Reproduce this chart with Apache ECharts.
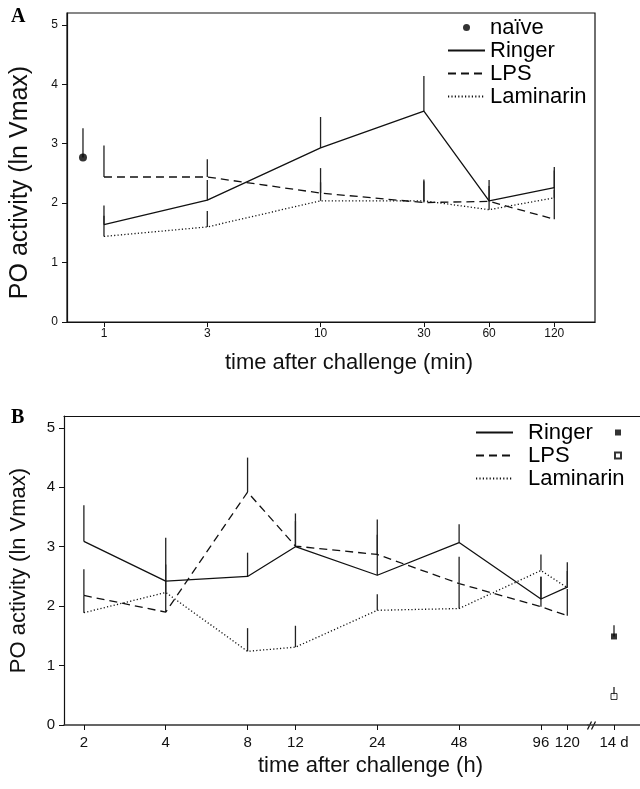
<!DOCTYPE html>
<html>
<head>
<meta charset="utf-8">
<script src="https://cdn.jsdelivr.net/npm/echarts@6/dist/echarts.min.js"></script>
<style>
html, body { margin: 0; padding: 0; background: #fff; }
#chart { width: 640px; height: 789px; }
</style>
</head>
<body>
<div id="chart"></div>
<script>
// panel A: minutes after challenge
var timesA = [1, 3, 10, 30, 60, 120];
var ringerA = [1.64, 2.05, 2.93, 3.55, 2.04, 2.26];
var ringerATop = [1.96, 2.39, 3.45, 4.14, 2.39, 2.61];
var lpsA = [2.44, 2.44, 2.17, 2.01, 2.03, 1.73];
var lpsATop = [2.97, 2.74, 2.59, 2.40, 2.29, 2.22];
var lamA = [1.44, 1.60, 2.04, 2.04, 1.89, 2.09];
var lamATop = [1.79, 1.87, 2.35, 2.37, 2.05, 2.55];
var naiveTime = [0.8];
var naiveValue = [2.77];
var naiveTop = [3.26];

// panel B: hours after challenge, plus 14 days
var timesB = [2, 4, 8, 12, 24, 48, 96, 120];
var ringerB = [3.09, 2.42, 2.50, 3.00, 2.52, 3.07, 2.12, 2.32];
var ringerBTop = [3.70, 3.15, 2.90, 3.56, 3.46, 3.38, 2.49, 2.74];
var lpsB = [2.18, 1.90, 3.92, 3.01, 2.87, 2.38, 1.99, 1.84];
var lpsBTop = [2.62, 2.42, 4.50, 3.43, 3.20, 2.83, 2.50, 2.29];
var lamB = [1.89, 2.23, 1.24, 1.31, 1.93, 1.96, 2.60, 2.31];
var lamBTop = [2.18, 2.70, 1.63, 1.67, 2.20, 2.37, 2.87, 2.59];
var dayLabels = ['14 d'];
var ringerDay = [1.49];
var ringerDayTop = [1.68];
var lpsDay = [0.48];
var lpsDayTop = [0.64];

var ticksA = [1, 3, 10, 30, 60, 120];
var ticksB = [2, 4, 8, 12, 24, 48, 96, 120];
var yTicks = [0, 1, 2, 3, 4, 5];

var font = 'Liberation Sans, Arial, sans-serif';
var ink = '#111';

function pairs(xs, ys) {
    return xs.map(function(x, i) { return [x, ys[i]]; });
}

function triples(xs, ys, tops) {
    return xs.map(function(x, i) { return [x, ys[i], tops[i]]; });
}

// legend entry for a line series: bare line, symbol hidden
function lineEntry(name) {
    return { name: name, itemStyle: { opacity: 0 } };
}

// upper error bar only, a vertical line from the mean to mean + error
function renderErrorBar(params, api) {
    var p0 = api.coord([api.value(0), api.value(1)]);
    var p1 = api.coord([api.value(0), api.value(2)]);
    return {
        type: 'line',
        shape: { x1: p0[0], y1: p0[1], x2: p1[0], y2: p1[1] },
        style: { stroke: '#222', lineWidth: 1.3 }
    };
}

function lineSeries(name, xi, data, dash) {
    return {
        name: name,
        type: 'line',
        xAxisIndex: xi,
        yAxisIndex: xi === 0 ? 0 : 1,
        data: data,
        symbol: 'none',
        lineStyle: { color: ink, width: 1.3, type: dash },
        itemStyle: { color: ink },
        z: 3
    };
}

function errorSeries(xi, yi, data) {
    return {
        type: 'custom',
        xAxisIndex: xi,
        yAxisIndex: yi,
        data: data,
        renderItem: renderErrorBar,
        encode: { x: 0, y: [1, 2] },
        z: 2
    };
}

function yAxisFor(gridIndex, size, name, nameSize, pad) {
    return {
        gridIndex: gridIndex,
        type: 'value',
        min: 0,
        max: 5.2,
        axisLine: { show: true, lineStyle: { color: ink, width: 1.2 } },
        axisTick: { show: true, length: 5, customValues: yTicks, lineStyle: { color: ink } },
        axisLabel: { customValues: yTicks, fontSize: size, color: ink, fontFamily: font, margin: 9 },
        splitLine: { show: false },
        name: name,
        nameLocation: 'middle',
        nameGap: 34,
        nameTextStyle: { fontSize: nameSize, color: ink, fontFamily: font, padding: pad }
    };
}

var dash = [8, 5];
var dot = [1.2, 2.2];

var chart = echarts.init(document.getElementById('chart'));
chart.setOption({
    animation: false,
    backgroundColor: '#fff',
    title: [
        { text: 'A', left: 11, top: 7, padding: 0,
          textStyle: { fontFamily: 'Liberation Serif, Times New Roman, serif', fontWeight: 'bold', fontSize: 20, color: '#000' } },
        { text: 'B', left: 11, top: 408, padding: 0,
          textStyle: { fontFamily: 'Liberation Serif, Times New Roman, serif', fontWeight: 'bold', fontSize: 20, color: '#000' } }
    ],
    legend: [
        {
            data: ['naïve', lineEntry('Ringer'), lineEntry('LPS'), lineEntry('Laminarin')],
            orient: 'vertical',
            left: 447,
            top: 16,
            padding: 0,
            itemWidth: 37,
            itemHeight: 7,
            itemGap: 0,
            selectedMode: false,
            textStyle: { fontSize: 22, lineHeight: 23, color: '#000', fontFamily: font }
        },
        {
            data: [lineEntry('Ringer'), lineEntry('LPS'), lineEntry('Laminarin')],
            orient: 'vertical',
            left: 475,
            top: 421,
            padding: 0,
            itemWidth: 37,
            itemHeight: 7,
            itemGap: 0,
            selectedMode: false,
            textStyle: { fontSize: 22, lineHeight: 23, color: '#000', fontFamily: font, padding: [0, 0, 0, 10] }
        },
        {
            data: ['Ringer 14 d', 'LPS 14 d'],
            orient: 'vertical',
            left: 614,
            top: 421,
            padding: 0,
            itemWidth: 6,
            itemHeight: 6,
            itemGap: 0,
            selectedMode: false,
            formatter: function() { return ' '; },
            textStyle: { fontSize: 22, lineHeight: 23, color: '#000', fontFamily: font }
        }
    ],
    grid: [
        { left: 66, top: 13, width: 529, height: 309, show: true, borderColor: ink, borderWidth: 1.2 },
        { left: 63, top: 416, width: 525, height: 309 },
        { left: 588, top: 416, width: 52, height: 309 }
    ],
    xAxis: [
        {
            gridIndex: 0,
            type: 'log',
            logBase: 10,
            min: 0.675,
            max: 185,
            axisLine: { show: true, lineStyle: { color: ink, width: 1.2 } },
            axisTick: { show: true, length: 5, customValues: ticksA, lineStyle: { color: ink } },
            axisLabel: { customValues: ticksA, fontSize: 12, color: ink, fontFamily: font, margin: 6 },
            splitLine: { show: false },
            minorTick: { show: false },
            name: 'time after challenge (min)',
            nameLocation: 'middle',
            nameGap: 30,
            nameTextStyle: { fontSize: 22, color: ink, fontFamily: font, padding: [0, 0, 0, 36] }
        },
        {
            gridIndex: 1,
            type: 'log',
            logBase: 2,
            min: 1.69,
            max: 143,
            axisLine: { show: true, lineStyle: { color: '#333', width: 1.5 } },
            axisTick: { show: true, length: 5, customValues: ticksB, lineStyle: { color: ink } },
            axisLabel: { customValues: ticksB, fontSize: 15, color: ink, fontFamily: font, margin: 10 },
            splitLine: { show: false },
            minorTick: { show: false },
            name: 'time after challenge (h)',
            nameLocation: 'middle',
            nameGap: 30,
            nameTextStyle: { fontSize: 22, color: ink, fontFamily: font, padding: [0, 0, 0, 89] }
        },
        {
            gridIndex: 2,
            type: 'category',
            data: dayLabels,
            axisLine: { show: true, lineStyle: { color: '#333', width: 1.5 } },
            axisTick: { show: true, length: 5, alignWithLabel: true, lineStyle: { color: ink } },
            axisLabel: { fontSize: 15, color: ink, fontFamily: font, margin: 10 }
        },
        {
            gridIndex: 1, type: 'value', position: 'top', min: 0, max: 1,
            axisLine: { show: true, onZero: false, lineStyle: { color: ink, width: 1.2 } },
            axisTick: { show: false }, axisLabel: { show: false }, splitLine: { show: false }
        },
        {
            gridIndex: 2, type: 'value', position: 'top', min: 0, max: 1,
            axisLine: { show: true, onZero: false, lineStyle: { color: ink, width: 1.2 } },
            axisTick: { show: false }, axisLabel: { show: false }, splitLine: { show: false }
        }
    ],
    yAxis: [
        yAxisFor(0, 12, 'PO activity (ln Vmax)', 25, [0, 30, 0, 0]),
        yAxisFor(1, 15, 'PO activity (ln Vmax)', 22, [0, 0, 0, 0]),
        { gridIndex: 2, type: 'value', min: 0, max: 5.2, show: false }
    ],
    graphic: [
        {
            type: 'group',
            left: 585,
            top: 719,
            children: [
                { type: 'rect', shape: { x: 1, y: 3, width: 8, height: 6 }, style: { fill: '#fff' } },
                { type: 'line', shape: { x1: 0, y1: 10, x2: 4, y2: 2 }, style: { stroke: ink, lineWidth: 1.2 } },
                { type: 'line', shape: { x1: 4, y1: 10, x2: 8, y2: 2 }, style: { stroke: ink, lineWidth: 1.2 } }
            ]
        }
    ],
    series: [
        lineSeries('Ringer', 0, pairs(timesA, ringerA), 'solid'),
        lineSeries('LPS', 0, pairs(timesA, lpsA), dash),
        lineSeries('Laminarin', 0, pairs(timesA, lamA), dot),
        {
            name: 'naïve',
            type: 'scatter',
            xAxisIndex: 0,
            yAxisIndex: 0,
            data: pairs(naiveTime, naiveValue),
            symbol: 'circle',
            symbolSize: 8,
            itemStyle: { color: '#000' },
            z: 4
        },
        errorSeries(0, 0, triples(timesA, ringerA, ringerATop)),
        errorSeries(0, 0, triples(timesA, lpsA, lpsATop)),
        errorSeries(0, 0, triples(timesA, lamA, lamATop)),
        errorSeries(0, 0, triples(naiveTime, naiveValue, naiveTop)),

        lineSeries('Ringer', 1, pairs(timesB, ringerB), 'solid'),
        lineSeries('LPS', 1, pairs(timesB, lpsB), dash),
        lineSeries('Laminarin', 1, pairs(timesB, lamB), dot),
        errorSeries(1, 1, triples(timesB, ringerB, ringerBTop)),
        errorSeries(1, 1, triples(timesB, lpsB, lpsBTop)),
        errorSeries(1, 1, triples(timesB, lamB, lamBTop)),

        {
            name: 'Ringer 14 d',
            type: 'scatter',
            xAxisIndex: 2,
            yAxisIndex: 2,
            data: pairs(dayLabels, ringerDay),
            symbol: 'rect',
            symbolSize: 6,
            itemStyle: { color: '#000' },
            z: 4
        },
        {
            name: 'LPS 14 d',
            type: 'scatter',
            xAxisIndex: 2,
            yAxisIndex: 2,
            data: pairs(dayLabels, lpsDay),
            symbol: 'rect',
            symbolSize: 6,
            itemStyle: { color: '#fff', borderColor: '#000', borderWidth: 1 },
            z: 4
        },
        errorSeries(2, 2, triples(dayLabels, ringerDay, ringerDayTop)),
        errorSeries(2, 2, triples(dayLabels, lpsDay, lpsDayTop))
    ]
});
</script>
</body>
</html>
